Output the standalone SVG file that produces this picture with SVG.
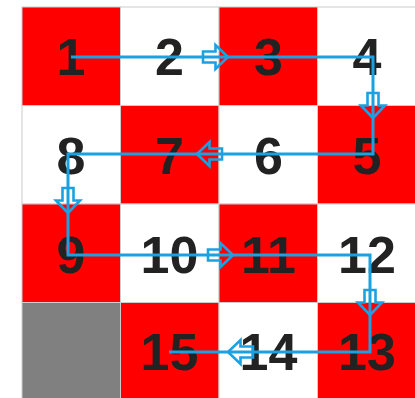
<svg xmlns="http://www.w3.org/2000/svg" width="415" height="398" viewBox="0 0 415 398">
<defs>
<style>
.red{fill:#ff0000;stroke:#cccccc;stroke-width:1}
.white{fill:#ffffff;stroke:#cccccc;stroke-width:1}
.gray{fill:#808080;stroke:#cccccc;stroke-width:1}
.num{font-family:"Liberation Sans",Arial,sans-serif;font-weight:bold;font-size:52px;fill:#222222;text-anchor:middle}
.path{fill:none;stroke:#1ba1e2;stroke-width:3}
.arr{fill:none;stroke:#1ba1e2;stroke-width:2.6;stroke-linejoin:miter}
</style>
<path id="blk" d="M-25,-5.5 H-12.5 V-12 L0,0 L-12.5,12 V5.5 H-25 Z"/>
</defs>
<rect x="0" y="0" width="415" height="398" fill="#ffffff"/>
<g id="cell1"><rect class="red" x="22" y="7" width="98.5" height="98.5"/><text class="num" x="71" y="75">1</text></g>
<g id="cell2"><rect class="white" x="120.5" y="7" width="98.5" height="98.5"/><text class="num" x="169.5" y="75">2</text></g>
<g id="cell3"><rect class="red" x="219" y="7" width="98.5" height="98.5"/><text class="num" x="268.5" y="75">3</text></g>
<g id="cell4"><rect class="white" x="317.5" y="7" width="98.5" height="98.5"/><text class="num" x="367" y="75">4</text></g>
<g id="cell8"><rect class="white" x="22" y="105.5" width="98.5" height="98.5"/><text class="num" x="71" y="174">8</text></g>
<g id="cell7"><rect class="red" x="120.5" y="105.5" width="98.5" height="98.5"/><text class="num" x="169.5" y="174">7</text></g>
<g id="cell6"><rect class="white" x="219" y="105.5" width="98.5" height="98.5"/><text class="num" x="268.5" y="174">6</text></g>
<g id="cell5"><rect class="red" x="317.5" y="105.5" width="98.5" height="98.5"/><text class="num" x="367" y="174">5</text></g>
<g id="cell9"><rect class="red" x="22" y="204" width="98.5" height="98.5"/><text class="num" x="71" y="273">9</text></g>
<g id="cell10"><rect class="white" x="120.5" y="204" width="98.5" height="98.5"/><text class="num" x="169.5" y="273">10</text></g>
<g id="cell11"><rect class="red" x="219" y="204" width="98.5" height="98.5"/><text class="num" x="268.5" y="273">11</text></g>
<g id="cell12"><rect class="white" x="317.5" y="204" width="98.5" height="98.5"/><text class="num" x="367" y="273">12</text></g>
<g id="cell-empty"><rect class="gray" x="22" y="302.5" width="98.5" height="98.5"/></g>
<g id="cell15"><rect class="red" x="120.5" y="302.5" width="98.5" height="98.5"/><text class="num" x="169.5" y="370">15</text></g>
<g id="cell14"><rect class="white" x="219" y="302.5" width="98.5" height="98.5"/><text class="num" x="268.5" y="370">14</text></g>
<g id="cell13"><rect class="red" x="317.5" y="302.5" width="98.5" height="98.5"/><text class="num" x="367" y="370">13</text></g>
<g id="connectors">
<path class="path" d="M71,57 H373 V154 H68 V255 H370 V352 H169"/>
<use href="#blk" class="arr" transform="translate(228,57)"/>
<use href="#blk" class="arr" transform="translate(373,118) rotate(90)"/>
<use href="#blk" class="arr" transform="translate(197,154) rotate(180)"/>
<use href="#blk" class="arr" transform="translate(68,213) rotate(90)"/>
<use href="#blk" class="arr" transform="translate(233,255)"/>
<use href="#blk" class="arr" transform="translate(370,315) rotate(90)"/>
<use href="#blk" class="arr" transform="translate(228,352) rotate(180)"/>
</g>
</svg>
